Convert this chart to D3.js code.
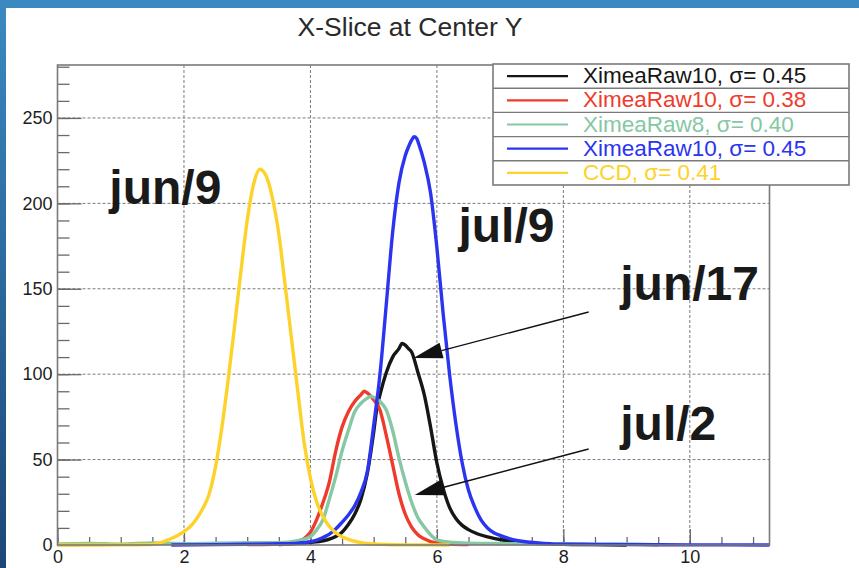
<!DOCTYPE html>
<html><head><meta charset="utf-8">
<script src="https://cdn.jsdelivr.net/npm/d3@7"></script>
<style>html,body{margin:0;padding:0;background:#fff;overflow:hidden}svg{display:block}</style>
</head><body><svg id="c" width="859" height="568"></svg>
<script>
// ---------------- data ----------------
const title = "X-Slice at Center Y";
const xTicksMajor = [0, 2, 4, 6, 8, 10];
const yTicksMajor = [0, 50, 100, 150, 200, 250];

const seriesNames = ["XimeaRaw10, σ= 0.45", "XimeaRaw10, σ= 0.38", "XimeaRaw8, σ= 0.40", "XimeaRaw10, σ= 0.45", "CCD, σ= 0.41"];
const seriesColors = ["#161616", "#ef3b2c", "#86c7a4", "#2b35f0", "#fdd22a"];

// black: jun/17
const blackX = [3.5,4.0,4.2,4.3,4.4,4.5,4.6,4.7,4.8,4.9,5.0,5.05,5.1,5.2,5.3,5.4,5.45,5.5,5.55,5.6,5.7,5.8,5.9,6.0,6.1,6.2,6.3,6.4,6.5,6.6,6.8,7.0,7.2,7.5,8.0,8.5,9.0];
const blackY = [0.3,1.5,2.5,3.5,5,7.5,12,18,27,42,66,80,88,101,110,115,118,117,115,113,101,88,69,48,33,22,15.5,11.5,9,7.2,4.8,3.2,2,1,0.4,0.2,0];
// red: jul/2
const redX = [3.0,3.5,3.7,3.8,3.9,4.0,4.1,4.2,4.3,4.4,4.5,4.6,4.7,4.8,4.85,4.9,5.0,5.1,5.2,5.3,5.4,5.5,5.6,5.7,5.8,5.9,6.0,6.2,6.5];
const redY = [0.2,0.6,1.2,2,3.8,7.5,15,25,37,55,69,78,84,88,90,89,85,79,64,47,30,18,10.5,6,3.6,2,1.2,0.5,0.2];
// green: XimeaRaw8
const greenX = [0,0.5,1.0,1.5,2.0,2.5,3.0,3.5,3.8,4.0,4.1,4.2,4.3,4.4,4.5,4.6,4.7,4.8,4.9,4.95,5.0,5.1,5.2,5.3,5.4,5.5,5.6,5.7,5.8,5.9,6.0,6.2,6.5,7.0,7.5,8.0,8.5,9.0,9.5];
const greenY = [0.6,0.9,0.5,1.2,0.8,1.1,1.3,1.4,2.6,5,9,15,27,40,55,67,78,83,86,87,86.5,84,79,67,51,37,25,16,10.5,6,3,1.6,1.1,0.9,0.7,0.8,0.5,0.6,0];
// blue: jul/9
const blueX = [1.8,2.5,3.0,3.5,3.8,4.0,4.1,4.2,4.3,4.4,4.5,4.6,4.7,4.8,4.9,5.0,5.1,5.2,5.3,5.4,5.5,5.55,5.6,5.64,5.68,5.72,5.8,5.9,6.0,6.1,6.2,6.3,6.4,6.5,6.6,6.7,6.8,6.9,7.0,7.2,7.4,7.6,7.8,8.0,9.0,10.0,11.26];
const blueY = [0,0.2,0.4,0.7,1.1,1.9,2.8,4.4,6.4,9.4,13.3,17.6,23,31,43,70,100,141,183,212,228,233,237,239,238,234,224,206,174,135,100,71,48,32,22,14.5,10,7.2,5.6,3.2,1.9,1.2,0.7,0.4,0.2,0.1,0];
// yellow: CCD jun/9
const ccdX = [0,0.6,1.2,1.4,1.5,1.6,1.7,1.8,1.9,2.0,2.1,2.2,2.3,2.4,2.5,2.6,2.7,2.8,2.9,3.0,3.1,3.2,3.3,3.4,3.5,3.6,3.7,3.8,3.9,4.0,4.1,4.2,4.3,4.4,4.5,4.6,4.7,4.8,4.9,5.0,5.2,5.5,6.2];
const ccdY = [0,0,0.1,0.2,0.4,1.1,2.3,3.8,5.6,7.8,10.8,15.4,21.5,30,46,69,97,128,160,190,211,220,216,203,182,152,121,90,60,39,25,16.5,10.8,7.2,4.8,3.3,2.2,1.4,0.9,0.6,0.3,0.1,0];

const labels = ["jun/9", "jul/9", "jun/17", "jul/2"];
const labelX = [0.82, 6.34, 8.9, 8.9];
const labelY = [199.5, 177.5, 143.5, 61.5];
const arrowFromX = [8.4, 8.4];
const arrowFromY = [136.4, 56.2];
const arrowToX = [5.63, 5.65];
const arrowToY = [109.5, 29.3];

// ---------------- drawing ----------------
const svg = d3.select("#c");
const W = 859, H = 568;
const defs = svg.append("defs");
const lg = defs.append("linearGradient").attr("id","lg").attr("x1",0).attr("y1",0).attr("x2",0).attr("y2",1);
lg.append("stop").attr("offset","0%").attr("stop-color","#3a8ac1");
lg.append("stop").attr("offset","100%").attr("stop-color","#1c4677");

svg.append("rect").attr("width",W).attr("height",H).attr("fill","#fff");
svg.append("rect").attr("x",0).attr("y",0).attr("width",W).attr("height",8).attr("fill","#3a89c0");
svg.append("rect").attr("x",0).attr("y",0).attr("width",6).attr("height",H).attr("fill","url(#lg)");

const L = 57.5, R = 769.5, T = 65, B = 545;
const x = d3.scaleLinear().domain([0, 11.26]).range([L, R]);
const y = d3.scaleLinear().domain([0, 281]).range([B, T]);

// title
svg.append("text").attr("x",410).attr("y",36).attr("text-anchor","middle")
  .attr("font-family","'Liberation Sans', Arial, sans-serif").attr("font-size",26.5)
  .attr("fill","#2a2a2a").text(title);

// grid
const grid = svg.append("g").attr("stroke","#7a7a7a").attr("stroke-width",1).attr("stroke-dasharray","3,2");
grid.selectAll("line.gx").data(xTicksMajor.filter(d=>d>0)).join("line")
  .attr("x1",d=>x(d)).attr("x2",d=>x(d)).attr("y1",T).attr("y2",B);
grid.selectAll("line.gy").data(yTicksMajor.filter(d=>d>0)).join("line").attr("class","gy")
  .attr("x1",L).attr("x2",R).attr("y1",d=>y(d)).attr("y2",d=>y(d));

const fontAxis = "'Liberation Sans', Arial, sans-serif";
const xMinor = d3.range(0, 11.26, 0.5);
const gxm = svg.append("g").attr("transform",`translate(0,${B})`)
  .call(d3.axisBottom(x).tickValues(xMinor).tickSize(-8).tickFormat(""));
const gx = svg.append("g").attr("transform",`translate(0,${B})`)
  .call(d3.axisBottom(x).tickValues(xTicksMajor).tickSize(-16).tickPadding(5).tickFormat(d3.format("d")));
const yMinor = d3.range(0, 281, 10);
const gym = svg.append("g").attr("transform",`translate(${L},0)`)
  .call(d3.axisLeft(y).tickValues(yMinor).tickSize(-12).tickFormat(""));
const gy = svg.append("g").attr("transform",`translate(${L},0)`)
  .call(d3.axisLeft(y).tickValues(yTicksMajor).tickSize(-24).tickPadding(5).tickFormat(d3.format("d")));
[gxm,gx,gym,gy].forEach(g=>{
  g.select(".domain").remove();
  g.selectAll(".tick line").attr("stroke","#6a6a6a").attr("stroke-width",1.3);
  g.selectAll("text").attr("font-family",fontAxis).attr("font-size",18).attr("fill","#1e1e1e");
});

// curves
const line = d3.line().x(d=>x(d[0])).y(d=>y(d[1])).curve(d3.curveMonotoneX);
const seriesData = [
  d3.zip(blackX, blackY), d3.zip(redX, redY), d3.zip(greenX, greenY), d3.zip(blueX, blueY), d3.zip(ccdX, ccdY)
];
svg.append("g").selectAll("path").data(seriesData).join("path")
  .attr("d", line).attr("fill","none")
  .attr("stroke",(d,i)=>seriesColors[i]).attr("stroke-width",3.4).attr("stroke-linejoin","round");

// frame
svg.append("rect").attr("x",L).attr("y",T).attr("width",R-L).attr("height",B-T)
  .attr("fill","none").attr("stroke","#7a7a7a").attr("stroke-width",1.6);

// annotations
svg.append("g").selectAll("text").data(labels).join("text")
  .attr("x",(d,i)=>x(labelX[i])).attr("y",(d,i)=>y(labelY[i]))
  .attr("font-family",fontAxis).attr("font-weight","bold").attr("font-size",48)
  .attr("fill","#1a1a1a").text(d=>d);

const arrows = svg.append("g");
arrowFromX.forEach((_, i) => {
  const x1 = x(arrowFromX[i]), y1 = y(arrowFromY[i]), x2 = x(arrowToX[i]), y2 = y(arrowToY[i]);
  const ang = Math.atan2(y2 - y1, x2 - x1);
  const len = 29, hw = 8;
  const bx = x2 - len*Math.cos(ang), by = y2 - len*Math.sin(ang);
  arrows.append("line").attr("x1",x1).attr("y1",y1).attr("x2",bx).attr("y2",by)
    .attr("stroke","#111").attr("stroke-width",1.4);
  const px = -Math.sin(ang)*hw, py = Math.cos(ang)*hw;
  arrows.append("path").attr("d",`M${x2},${y2}L${bx+px},${by+py}L${bx-px},${by-py}Z`).attr("fill","#111");
});

// legend
const lgX = 493, lgY = 64, lgW = 356, rowH = 24.2;
const leg = svg.append("g");
leg.append("rect").attr("x",lgX).attr("y",lgY).attr("width",lgW).attr("height",rowH*seriesNames.length)
  .attr("fill","#fff").attr("stroke","#7a7a7a").attr("stroke-width",1.6);
seriesNames.forEach((name,i)=>{
  const cy = lgY + rowH*i + rowH/2;
  if (i>0) leg.append("line").attr("x1",lgX).attr("x2",lgX+lgW).attr("y1",lgY+rowH*i).attr("y2",lgY+rowH*i)
    .attr("stroke","#7a7a7a").attr("stroke-width",1.4);
  leg.append("line").attr("x1",507).attr("x2",568).attr("y1",cy).attr("y2",cy)
    .attr("stroke",seriesColors[i]).attr("stroke-width",2.2);
  leg.append("text").attr("x",583).attr("y",cy+7).attr("font-family",fontAxis).attr("font-size",22.5)
    .attr("fill",seriesColors[i]).text(name);
});
</script></body></html>
